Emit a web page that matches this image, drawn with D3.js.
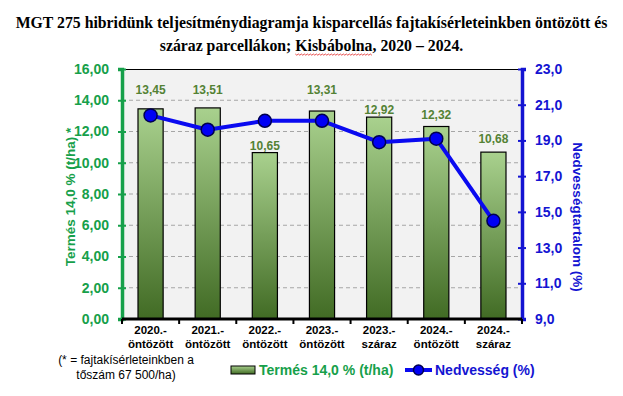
<!DOCTYPE html>
<html>
<head>
<meta charset="utf-8">
<script src="https://cdn.jsdelivr.net/npm/d3@7/dist/d3.min.js"></script>
<style>
  html, body { margin: 0; padding: 0; background: #fff; }
  svg { display: block; font-family: "Liberation Sans", Arial, sans-serif; }
</style>
</head>
<body>
<div id="chart"></div>
<script>
// chart data
const categories = ['2020.- öntözött', '2021.- öntözött', '2022.- öntözött', '2023.- öntözött', '2023.- száraz', '2024.- öntözött', '2024.- száraz'];
const yieldValues = [13.45, 13.51, 10.65, 13.31, 12.92, 12.32, 10.68];
const moistureValues = [20.4, 19.6, 20.1, 20.1, 18.9, 19.1, 14.5];
const yieldTicks = [0, 2, 4, 6, 8, 10, 12, 14, 16];
const moistureTicks = [9, 11, 13, 15, 17, 19, 21, 23];
const titleLines = ['MGT 275 hibridünk teljesítménydiagramja kisparcellás fajtakísérleteinkben öntözött és', 'száraz parcellákon; Kisbábolna, 2020 – 2024.'];
const footnoteLines = ['(* = fajtakísérleteinkben a', 'tőszám 67 500/ha)'];
const legendLabels = ['Termés 14,0 % (t/ha)', 'Nedvesség (%)'];

// label nudges (px above bar top), manual like in the original
const labelLift = [15, 14, 3, 17, 3, 8, 9];

const W = 623, H = 396;
const plot = { left: 122, right: 522, top: 69, bottom: 319 };
const GREEN = '#16a04a', BLUE = '#1414d2', OLIVE = '#548235';

const fmt2 = d => d3.format('.2f')(d).replace('.', ',');
const fmt1 = d => d3.format('.1f')(d).replace('.', ',');

const svg = d3.select('#chart').append('svg')
  .attr('width', W).attr('height', H);

const defs = svg.append('defs');
const grad = defs.append('linearGradient')
  .attr('id', 'barGrad').attr('x1', 0).attr('y1', 0).attr('x2', 0).attr('y2', 1);
grad.append('stop').attr('offset', '0%').attr('stop-color', '#a9d18e');
grad.append('stop').attr('offset', '100%').attr('stop-color', '#416b24');

// title
const title = svg.append('g');
titleLines.forEach((t, i) => {
  title.append('text')
    .attr('x', W / 2).attr('y', 28 + i * 23)
    .attr('text-anchor', 'middle')
    .style('font-family', '"Liberation Serif", "Times New Roman", serif')
    .style('font-weight', 'bold').style('font-size', '15px')
    .text(t);
});
// fit the first line to the original width
const t0 = title.select('text').node();
const fs = 15 * 592 / t0.getComputedTextLength();
title.selectAll('text').style('font-size', fs + 'px');

// spellcheck squiggle under Kisbábolna
const t1 = title.selectAll('text').nodes()[1];
const k = titleLines[1].indexOf('Kisbábolna');
const sx = t1.getStartPositionOfChar(k).x;
const ex = t1.getEndPositionOfChar(k + 9).x;
const wave = [];
for (let x = sx, j = 0; x <= ex; x += 1.5, j++) wave.push([x, 54 + (j % 2 ? 1.2 : 0)]);
svg.append('path').attr('d', d3.line()(wave))
  .attr('fill', 'none').attr('stroke', '#e02020').attr('stroke-width', 0.8);

// scales
const x = d3.scaleBand().domain(categories)
  .range([plot.left, plot.right]).paddingInner(0.56).paddingOuter(0.28);
const yL = d3.scaleLinear().domain([0, 16]).range([plot.bottom, plot.top]);
const yR = d3.scaleLinear().domain([9, 23]).range([plot.bottom, plot.top]);
const cx = d => x(d) + x.bandwidth() / 2;

// plot area
svg.append('rect')
  .attr('x', plot.left).attr('y', plot.top)
  .attr('width', plot.right - plot.left).attr('height', plot.bottom - plot.top)
  .attr('fill', '#f2f2f2');
svg.append('line')
  .attr('x1', plot.left).attr('x2', plot.right)
  .attr('y1', plot.top + 0.5).attr('y2', plot.top + 0.5)
  .attr('stroke', '#000').attr('stroke-width', 1);

// gridlines
svg.append('g').selectAll('line')
  .data(yieldTicks.slice(1, -1))
  .enter().append('line')
    .attr('x1', plot.left).attr('x2', plot.right)
    .attr('y1', d => yL(d)).attr('y2', d => yL(d))
    .attr('stroke', '#a6a6a6').attr('stroke-width', 1)
    .attr('stroke-dasharray', '4,3');

// bars
svg.append('g').selectAll('rect')
  .data(yieldValues)
  .enter().append('rect')
    .attr('x', (d, i) => x(categories[i]))
    .attr('y', d => yL(d))
    .attr('width', x.bandwidth())
    .attr('height', d => plot.bottom - yL(d))
    .attr('fill', 'url(#barGrad)')
    .attr('stroke', '#000').attr('stroke-width', 1.2);

// bar labels
svg.append('g').selectAll('text')
  .data(yieldValues)
  .enter().append('text')
    .attr('x', (d, i) => cx(categories[i]))
    .attr('y', (d, i) => yL(d) - labelLift[i])
    .attr('text-anchor', 'middle')
    .style('font-size', '12px').style('font-weight', 'bold')
    .attr('fill', OLIVE)
    .text(fmt2);

// left axis
const axL = svg.append('g')
  .attr('transform', `translate(${plot.left},0)`)
  .call(d3.axisLeft(yL).tickValues(yieldTicks).tickFormat(fmt2).tickSize(4).tickPadding(9));
axL.select('.domain').attr('stroke', GREEN).attr('stroke-width', 3.5);
axL.selectAll('.tick line').attr('x1', 4).attr('stroke', GREEN).attr('stroke-width', 2);
axL.selectAll('.tick text').attr('fill', GREEN)
  .style('font-size', '14px').style('font-weight', 'bold')
  .style('font-family', '"Liberation Sans", Arial, sans-serif');

// right axis
const axR = svg.append('g')
  .attr('transform', `translate(${plot.right},0)`)
  .call(d3.axisRight(yR).tickValues(moistureTicks).tickFormat(fmt1).tickSize(4).tickPadding(9));
axR.select('.domain').attr('stroke', BLUE).attr('stroke-width', 3.5);
axR.selectAll('.tick line').attr('x1', -4).attr('stroke', BLUE).attr('stroke-width', 2);
axR.selectAll('.tick text').attr('fill', BLUE)
  .style('font-size', '14px').style('font-weight', 'bold')
  .style('font-family', '"Liberation Sans", Arial, sans-serif');

// category axis
const axB = svg.append('g').attr('transform', `translate(0,${plot.bottom})`);
axB.append('line')
  .attr('x1', plot.left).attr('x2', plot.right)
  .attr('stroke', '#000').attr('stroke-width', 3);
const bounds = categories.map(c => cx(c) - x.step() / 2).concat([cx(categories[categories.length - 1]) + x.step() / 2]);
axB.selectAll('.tk').data(bounds).enter().append('line')
  .attr('x1', d => d).attr('x2', d => d).attr('y1', 0).attr('y2', 5)
  .attr('stroke', '#000').attr('stroke-width', 2);
const catText = axB.selectAll('.cat').data(categories).enter().append('text')
  .attr('text-anchor', 'middle')
  .style('font-size', '11.5px').style('font-weight', 'bold').attr('fill', '#000');
catText.each(function(d) {
  const parts = d.split(' ');
  parts.forEach((p, i) => {
    d3.select(this).append('tspan')
      .attr('x', cx(d)).attr('y', 15 + i * 13.5).text(p);
  });
});

// moisture line
svg.append('path')
  .datum(moistureValues)
  .attr('d', d3.line().x((d, i) => cx(categories[i])).y(d => yR(d)))
  .attr('fill', 'none').attr('stroke', '#0a0af0').attr('stroke-width', 4)
  .attr('stroke-linejoin', 'round');
svg.append('g').selectAll('circle')
  .data(moistureValues)
  .enter().append('circle')
    .attr('cx', (d, i) => cx(categories[i]))
    .attr('cy', d => yR(d))
    .attr('r', 6.5)
    .attr('fill', '#0000f5').attr('stroke', '#000050').attr('stroke-width', 1.5);

// axis titles
svg.append('text')
  .attr('transform', `translate(75,${(plot.top + plot.bottom) / 2 + 3}) rotate(-90)`)
  .attr('text-anchor', 'middle')
  .style('font-size', '13.5px').style('font-weight', 'bold').attr('fill', GREEN)
  .text('Termés 14,0 % (t/ha) *');
svg.append('text')
  .attr('transform', `translate(573,${(plot.top + plot.bottom) / 2 + 23}) rotate(90)`)
  .attr('text-anchor', 'middle')
  .style('font-size', '13.5px').style('font-weight', 'bold').attr('fill', BLUE)
  .text('Nedvességtartalom (%)');

// footnote
svg.append('g').selectAll('text')
  .data(footnoteLines)
  .enter().append('text')
    .attr('x', 126).attr('y', (d, i) => 364 + i * 15)
    .attr('text-anchor', 'middle')
    .style('font-size', '12px').attr('fill', '#000')
    .text(d => d);

// legend
const leg = svg.append('g');
leg.append('rect')
  .attr('x', 231).attr('y', 366).attr('width', 24).attr('height', 8)
  .attr('fill', 'url(#barGrad)').attr('stroke', '#000').attr('stroke-width', 1);
leg.append('text')
  .attr('x', 259).attr('y', 375)
  .style('font-size', '14px').style('font-weight', 'bold').attr('fill', GREEN)
  .text(legendLabels[0]);
leg.append('line')
  .attr('x1', 405).attr('x2', 432).attr('y1', 370).attr('y2', 370)
  .attr('stroke', '#0a0af0').attr('stroke-width', 4);
leg.append('circle')
  .attr('cx', 418.5).attr('cy', 370).attr('r', 5)
  .attr('fill', '#0000f5').attr('stroke', '#000050').attr('stroke-width', 1.5);
leg.append('text')
  .attr('x', 435).attr('y', 375)
  .style('font-size', '14px').style('font-weight', 'bold').attr('fill', BLUE)
  .text(legendLabels[1]);
</script>
</body>
</html>
